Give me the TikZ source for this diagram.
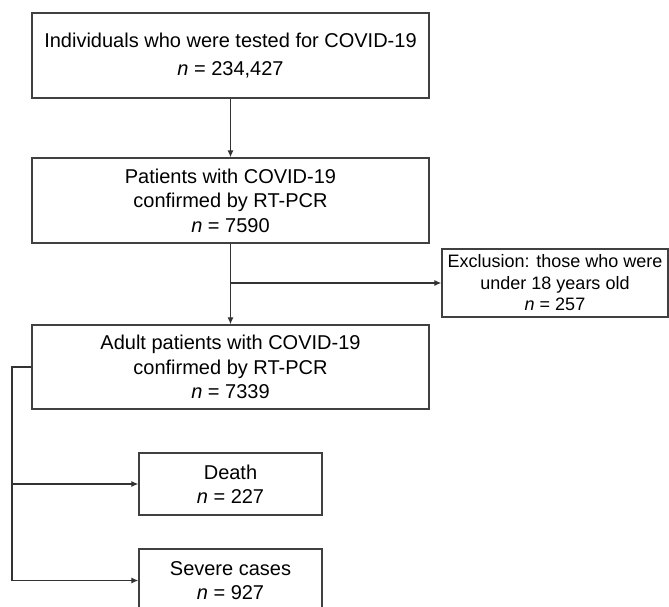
\documentclass[tikz,border=0pt]{standalone}
\usepackage{fontspec}
\setmainfont{Liberation Sans}
\usetikzlibrary{arrows.meta}
\begin{document}
\begin{tikzpicture}[x=1pt,y=-1pt,
  box/.style={draw=black!75, line width=1.3pt, rectangle, inner sep=0pt, align=center,
    font=\fontsize{20}{24.5}\selectfont, text=black},
  smallbox/.style={box, font=\fontsize{18}{21.5}\selectfont},
  conn/.style={draw=black!80, line width=1.2pt},
  arr/.style={conn, -{Latex[length=7pt,width=6pt]}}]
\useasboundingbox (0,0) rectangle (669,607);
\node[box, minimum width=397pt, minimum height=85pt] (b1) at (230.5,55.5)
  {Individuals who were tested for COVID-19\\[4pt]\textit{n} = 234,427};
\node[box, minimum width=397pt, minimum height=85pt] (b2) at (230.5,200.5)
  {Patients with COVID-19\\confirmed by RT-PCR\\\textit{n} = 7590};
\node[box, minimum width=397pt, minimum height=84pt] (b3) at (230.5,367)
  {Adult patients with COVID-19\\confirmed by RT-PCR\\\textit{n} = 7339};
\node[smallbox, minimum width=226pt, minimum height=68pt] (excl) at (555,283)
  {Exclusion: those who were\\under 18 years old\\\textit{n} = 257};
\node[box, minimum width=183pt, minimum height=62pt] (death) at (230.5,484)
  {Death\\\textit{n} = 227};
\node[box, minimum width=183pt, minimum height=63pt] (sev) at (230.5,580.5)
  {Severe cases\\\textit{n} = 927};
\coordinate (trunk) at (12,0);
\draw[arr] (b1.south) -- (b2.north);
\draw[arr] (b2.south) -- (b3.north);
\draw[arr] (b2.south |- excl.west) -- (excl.west);
\draw[arr] (b3.west) -- (b3.west -| trunk) |- (sev.west);
\draw[arr] (death.west -| trunk) -- (death.west);
\end{tikzpicture}
\end{document}
